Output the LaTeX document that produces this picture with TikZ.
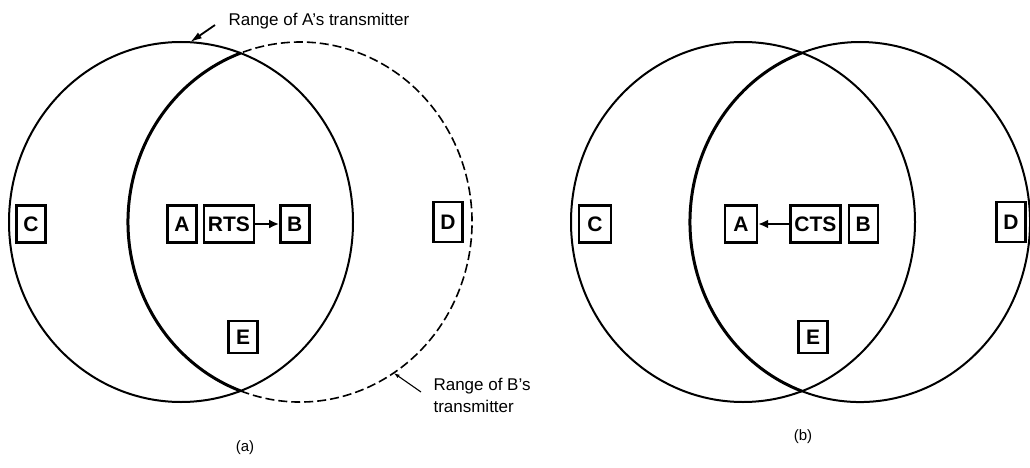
\documentclass[tikz,border=0pt]{standalone}
\usepackage{fontspec}
\setmainfont{Liberation Sans}
\usetikzlibrary{positioning,arrows.meta}

\begin{document}
\begin{tikzpicture}[
x=1pt,y=1pt,
station/.style={
  rectangle,
  draw=black,
  fill=white,
  line width=2.4pt,
  minimum width=29pt,
  minimum height=37pt,
  inner sep=2pt,
  font=\fontsize{21}{24}\selectfont\bfseries
},
msg/.style={station,minimum width=50pt},
rim/.style={line width=2pt},
innerarc/.style={line width=3pt},
outerarc/.style={line width=1.6pt,dash pattern=on 9pt off 4pt},
arrow/.style={-{Latex[length=10pt,width=9pt]},line width=2.2pt},
note/.style={font=\fontsize{17}{22}\selectfont,align=left},
lead/.style={-{Latex[length=12pt,width=7pt]},line width=1.8pt}
]
\useasboundingbox (0,0) rectangle (1030,467);

% (a) RTS
\coordinate (oa) at (181,245);
\coordinate (ob) at (300,245);
\draw[rim] (oa) ellipse[x radius=172, y radius=180];
\draw[innerarc] (ob) ++(110.2:172 and 180) arc[start angle=110.2, end angle=249.8, x radius=172, y radius=180];
\draw[outerarc] (ob) ++(-110.2:172 and 180) arc[start angle=-110.2, end angle=110.2, x radius=172, y radius=180];

\node[station] (ca) at (31,243) {C};
\node[station] (aa) at (182,243) {A};
\node[msg,right=5pt of aa] (rts) {RTS};
\node[station,right=24pt of rts] (ba) {B};
\node[station,minimum height=40pt] (da) at (448,245) {D};
\node[station,minimum height=32pt] (ea) at (243,130) {E};
\draw[arrow] (rts) -- (ba);

\node[note,anchor=west] (rangea) at (225,446) {Range of A's transmitter};
\path (oa) ++(87:172 and 180) coordinate (tipa);
\draw[lead] ([shift={(-10,-4)}]rangea.west) -- (tipa);
\node[note,anchor=west] (rangeb) at (430,72) {Range of B's\\transmitter};
\path (ob) ++(-57:172 and 180) coordinate (tipb);
\draw[-{Latex[length=6pt,width=4pt]},line width=1.1pt] ([shift={(-9,3)}]rangeb.west) -- (tipb);

\node[font=\fontsize{15}{17}\selectfont] (capa) at (245,19) {(a)};

% (b) CTS
\coordinate (pa) at (743,245);
\coordinate (pb) at (860,245);
\draw[rim] (pa) ellipse[x radius=172, y radius=180];
\draw[innerarc] (pb) ++(110:170 and 180) arc[start angle=110, end angle=250, x radius=170, y radius=180];
\draw[rim] (pb) ++(-110:170 and 180) arc[start angle=-110, end angle=110, x radius=170, y radius=180];

\node[station,minimum width=32pt] (cb) at (595,243) {C};
\node[station,minimum width=32pt] (ab) at (741,243) {A};
\node[msg,right=31pt of ab] (cts) {CTS};
\node[station,right=6pt of cts] (bb) {B};
\node[station,minimum height=40pt] (db) at (1011,245) {D};
\node[station,minimum height=32pt] (eb) at (813,130) {E};
\draw[arrow] (cts) -- (ab);

\node[font=\fontsize{15}{17}\selectfont] (capb) at (803,30) {(b)};
\end{tikzpicture}
\end{document}
